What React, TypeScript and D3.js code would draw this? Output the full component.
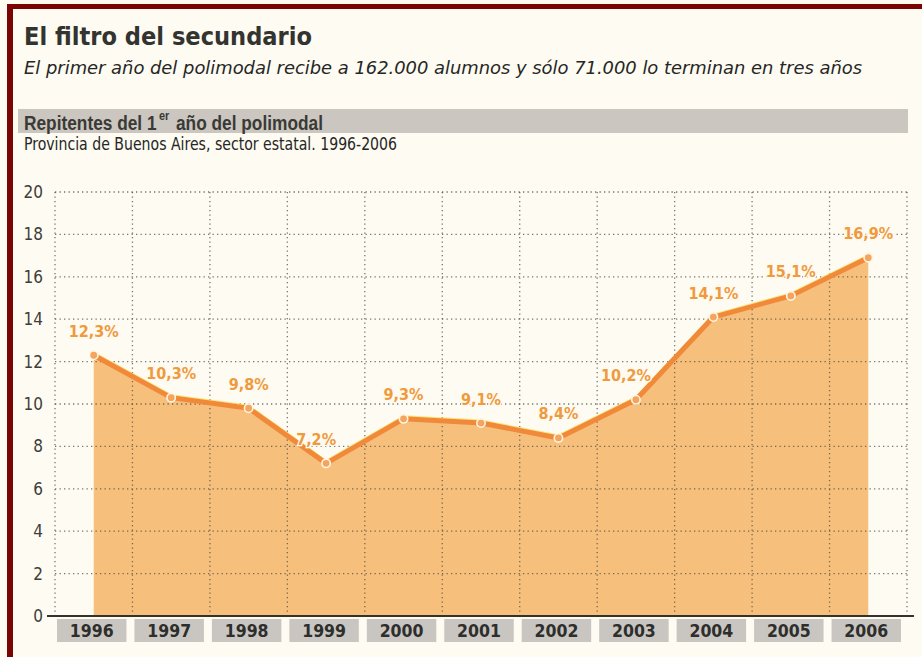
import { useMemo } from "react";
import * as d3 from "d3";

const WIDTH = 922;
const HEIGHT = 657;

// datos
const YEARS = ["1996", "1997", "1998", "1999", "2000", "2001", "2002", "2003", "2004", "2005", "2006"];
const RATES = [12.3, 10.3, 9.8, 7.2, 9.3, 9.1, 8.4, 10.2, 14.1, 15.1, 16.9];
const RATE_LABELS = ["12,3%", "10,3%", "9,8%", "7,2%", "9,3%", "9,1%", "8,4%", "10,2%", "14,1%", "15,1%", "16,9%"];
const Y_TICKS = [0, 2, 4, 6, 8, 10, 12, 14, 16, 18, 20];

const PLOT = { left: 55, right: 907, top: 192, bottom: 616 };

const FONT = "'DejaVu Sans Condensed', 'Liberation Sans Narrow', 'DejaVu Sans', sans-serif";
const NARROW = "'Liberation Sans', Arial, sans-serif";

export default function App() {
  const xScale = useMemo(
    () => d3.scaleBand().domain(YEARS).range([PLOT.left, PLOT.right]).padding(0),
    []
  );
  const yScale = useMemo(
    () => d3.scaleLinear().domain([0, 20]).range([PLOT.bottom, PLOT.top]),
    []
  );
  const bw = xScale.bandwidth();
  const cx = (i: number) => (xScale(YEARS[i]) as number) + bw / 2;

  const areaPath = d3
    .area<number>()
    .x((_, i) => cx(i))
    .y0(yScale(0))
    .y1((d) => yScale(d))(RATES);

  const linePath = d3
    .line<number>()
    .x((_, i) => cx(i))
    .y((d) => yScale(d))(RATES);

  // grilla punteada
  const hGrid = Y_TICKS.filter((t) => t > 0).map((t) => (
    <line
      key={"h" + t}
      x1={PLOT.left}
      x2={PLOT.right}
      y1={yScale(t)}
      y2={yScale(t)}
      stroke="#4a4a44"
      strokeWidth={1.3}
      strokeDasharray="1.3,3.2"
      opacity={0.75}
    />
  ));
  const vGrid = [...YEARS.map((yr) => xScale(yr) as number), PLOT.right].map((gx, i) => (
    <line
      key={"v" + i}
      x1={gx}
      x2={gx}
      y1={PLOT.top}
      y2={PLOT.bottom}
      stroke="#4a4a44"
      strokeWidth={1.3}
      strokeDasharray="1.3,3.2"
      opacity={0.75}
    />
  ));

  const yLabels = Y_TICKS.map((t) => (
    <text
      key={"yl" + t}
      x={43}
      y={yScale(t)}
      textAnchor="end"
      dominantBaseline="central"
      fontSize={17}
      fontFamily={FONT}
      fontStretch="condensed"
      fill="#3d3d3a"
    >
      {t}
    </text>
  ));

  const yearBoxes = YEARS.map((yr) => {
    const bx = xScale(yr) as number;
    return (
      <g key={"yr" + yr}>
        <rect x={bx + 2} y={619} width={bw - 8} height={23} fill="#c9c6c1" />
        <text
          x={bx + 2 + (bw - 8) / 2}
          y={631}
          textAnchor="middle"
          dominantBaseline="central"
          fontSize={17.5}
          fontWeight="bold"
          fontFamily={FONT}
          fontStretch="condensed"
          fill="#2e2e2c"
        >
          {yr}
        </text>
      </g>
    );
  });

  const points = RATES.map((v, i) => (
    <circle key={"p" + i} cx={cx(i)} cy={yScale(v)} r={4.2} fill="#f3a560" stroke="#fff4e0" strokeWidth={1.6} />
  ));

  // si el tramo siguiente sube mucho, la etiqueta se corre a la izquierda
  const valueLabels = RATES.map((v, i) => {
    const next = i < RATES.length - 1 ? RATES[i + 1] : v;
    const shift = next - v > 2 ? -10 : 0;
    return (
      <text
        key={"vl" + i}
        x={cx(i) + shift}
        y={yScale(v) - 24}
        textAnchor="middle"
        dominantBaseline="central"
        fontSize={16}
        fontWeight="bold"
        fontFamily={FONT}
        fontStretch="condensed"
        fill="#ee9a3e"
        stroke="#fffaf0"
        strokeWidth={2.5}
        paintOrder="stroke"
      >
        {RATE_LABELS[i]}
      </text>
    );
  });

  return (
    <svg width={WIDTH} height={HEIGHT} style={{ position: "absolute", left: 0, top: 0 }}>
      <rect x={0} y={0} width={WIDTH} height={HEIGHT} fill="#fdfbf2" />
      {/* marco rojo */}
      <rect x={7} y={4} width={6} height={HEIGHT - 4} fill="#7a0303" />
      <rect x={7} y={4} width={WIDTH - 7} height={5} fill="#7a0303" />

      {/* encabezado */}
      <text
        x={24}
        y={45}
        fontSize={25}
        fontWeight="bold"
        fontFamily={FONT}
        fontStretch="condensed"
        fill="#333330"
        textLength={288}
        lengthAdjust="spacingAndGlyphs"
      >
        El filtro del secundario
      </text>
      <text
        x={24}
        y={74}
        fontSize={18}
        fontStyle="italic"
        fontFamily={FONT}
        fontStretch="condensed"
        fill="#262624"
        textLength={838}
        lengthAdjust="spacingAndGlyphs"
      >
        El primer año del polimodal recibe a 162.000 alumnos y sólo 71.000 lo terminan en tres años
      </text>
      <rect x={18} y={109} width={890} height={24} fill="#cbc7c0" />
      {/* letra angosta y estirada en alto, como la del diario */}
      <g transform="translate(0,130) scale(1,1.22) translate(0,-130)">
        <text x={24} y={130} fontSize={17.3} fontWeight="bold" fontFamily={NARROW} fill="#3a3a36">
          Repitentes del 1
        </text>
        <text x={159} y={122} fontSize={11} fontWeight="bold" fontFamily={NARROW} fill="#3a3a36">
          er
        </text>
        <text x={176} y={130} fontSize={17.3} fontWeight="bold" fontFamily={NARROW} fill="#3a3a36">
          año del polimodal
        </text>
      </g>
      <text
        x={24}
        y={150}
        fontSize={17}
        fontFamily={FONT}
        fontStretch="condensed"
        fill="#262624"
        textLength={373}
        lengthAdjust="spacingAndGlyphs"
      >
        Provincia de Buenos Aires, sector estatal. 1996-2006
      </text>

      {/* área y grilla */}
      <path d={areaPath ?? ""} fill="#f6c07c" />
      {hGrid}
      {vGrid}
      <path d={linePath ?? ""} fill="none" stroke="#ffdd55" strokeWidth={2} transform="translate(0,-2.5)" opacity={0.8} />
      <path d={linePath ?? ""} fill="none" stroke="#f08a3a" strokeWidth={5} strokeLinejoin="round" />
      {points}
      {valueLabels}

      {/* eje */}
      <line x1={47} x2={914} y1={PLOT.bottom} y2={PLOT.bottom} stroke="#33332c" strokeWidth={2} />
      {yLabels}
      {yearBoxes}
    </svg>
  );
}
